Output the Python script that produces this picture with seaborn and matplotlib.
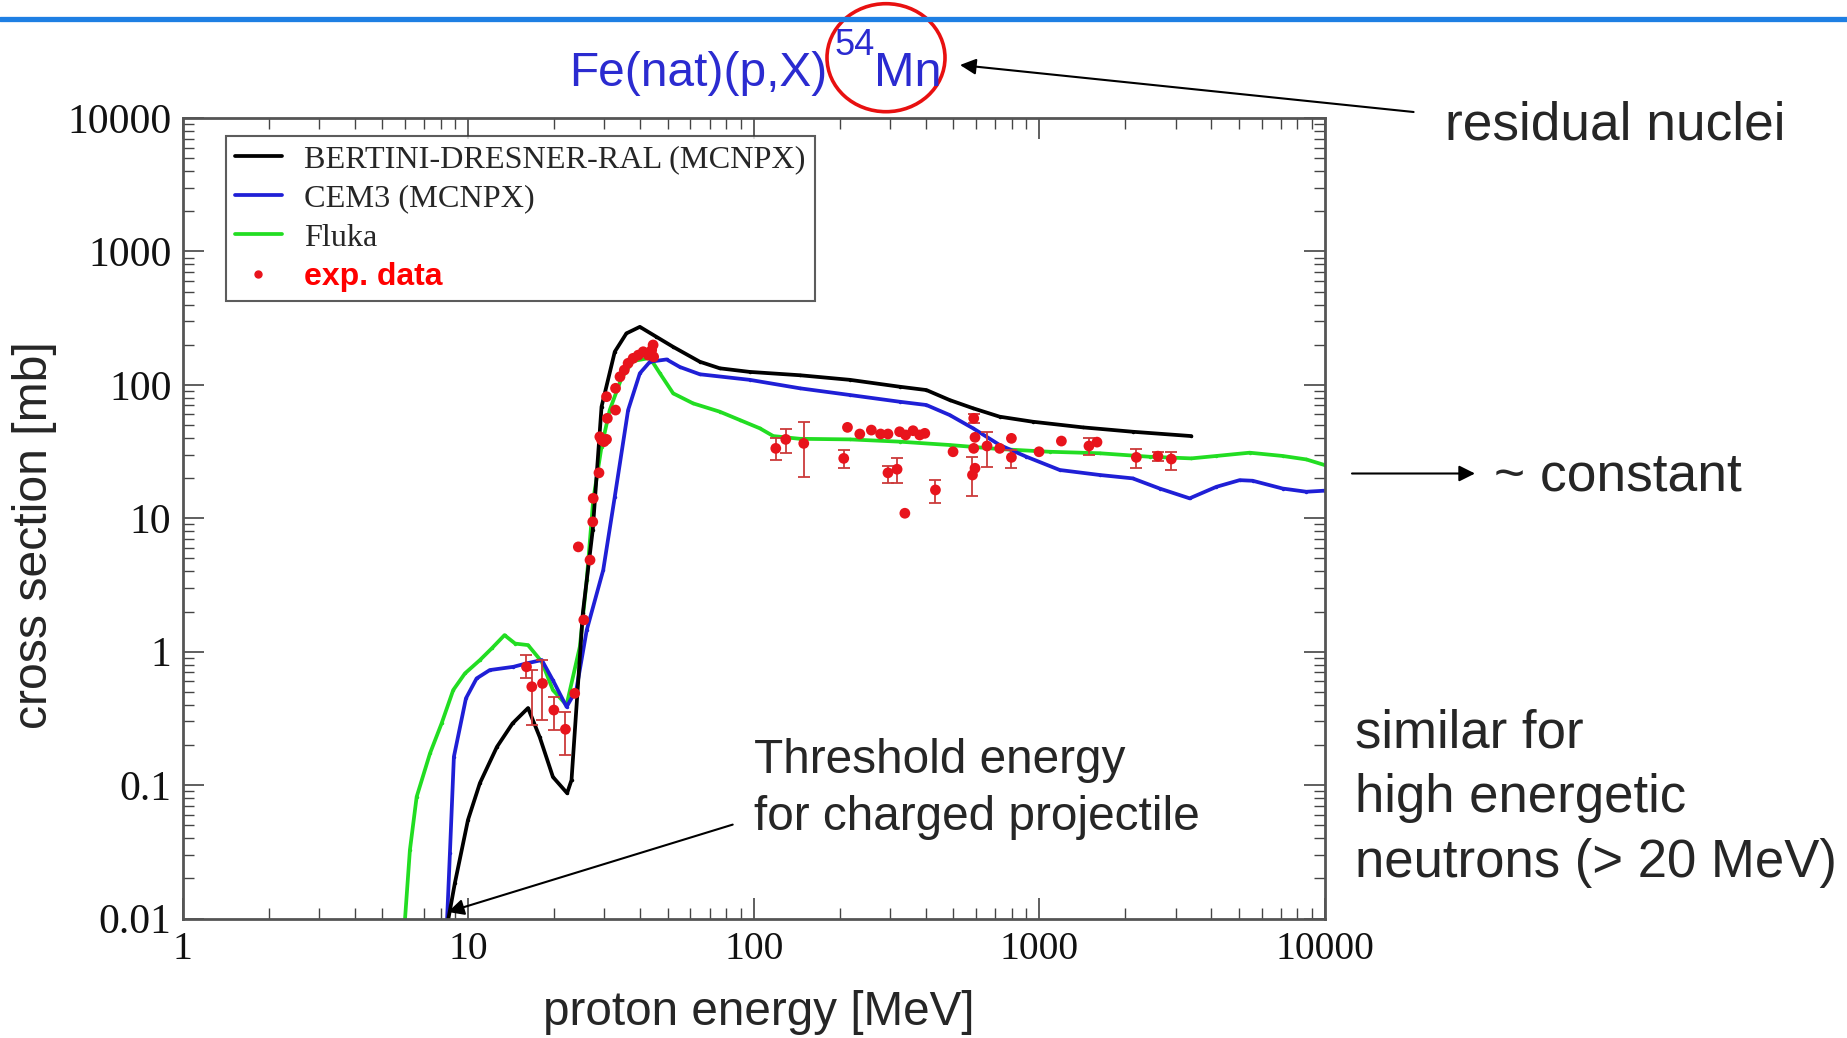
import numpy as np
import pandas as pd
import seaborn as sns
import matplotlib
matplotlib.use("Agg")
import matplotlib.pyplot as plt
from matplotlib.patches import Ellipse
from matplotlib.lines import Line2D
from matplotlib.ticker import LogLocator, NullFormatter

# ---------------- data ----------------
bertini_energy = [8.49, 8.98, 9.98, 10.99, 12.6, 14.3, 16.2, 17.8, 19.8, 22.2, 23.0, 25.2, 27.3,
                  29.3, 32.6, 35.8, 39.9, 45.6, 52.1, 64.7, 76.0, 96.8, 145, 217, 324, 402, 485,
                  586, 726, 948, 1418, 2121, 3404]
bertini_xs = [0.0095, 0.0184, 0.0547, 0.1035, 0.193, 0.29, 0.378, 0.229, 0.115, 0.087, 0.109, 1.95,
              8.2, 68.5, 177, 243, 272, 229, 193, 149, 133, 125, 118, 109, 96.8, 91.4, 76.9, 66.7,
              57.7, 52.9, 48.0, 44.5, 41.3]

cem3_energy = [8.40, 8.63, 8.91, 9.82, 10.7, 11.9, 14.4, 16.0, 18.1, 19.8, 22.1, 23.9, 26.0, 29.7,
               32.6, 36.3, 39.9, 43.3, 49.5, 55.1, 64.7, 96.8, 145, 217, 324, 402, 485, 586, 726,
               901, 1178, 1626, 2121, 2637, 3357, 4165, 5025, 5580, 7105, 8600, 10000]
cem3_xs = [0.008, 0.031, 0.163, 0.447, 0.63, 0.728, 0.77, 0.817, 0.865, 0.61, 0.386, 0.515, 1.45,
           4.09, 14.5, 64.7, 122, 149, 155, 136, 120, 109, 94.2, 83.9, 74.7, 70.6, 59.4, 47.2,
           35.4, 28.9, 23.0, 21.1, 19.9, 16.7, 14.1, 17.2, 19.3, 19.1, 16.7, 15.8, 16.1]

fluka_energy = [6.0, 6.25, 6.6, 7.35, 8.07, 8.86, 9.74, 10.99, 12.1, 13.4, 14.6, 16.2, 18.1, 19.8,
                22.1, 24.6, 26.0, 27.4, 29.3, 31.3, 34.4, 37.8, 43.3, 46.9, 52.2, 61.3, 76.0, 89.3,
                105, 117, 145, 217, 324, 485, 726, 1087, 1626, 2432, 3404, 4165, 5446, 7105, 8600,
                10000]
fluka_xs = [0.0095, 0.0326, 0.0817, 0.173, 0.29, 0.515, 0.687, 0.865, 1.06, 1.33, 1.15, 1.12, 0.84,
            0.515, 0.398, 1.09, 3.44, 13.7, 34.4, 64.7, 112, 151, 159, 122, 86.3, 72.6, 62.9, 54.5,
            47.2, 41.3, 39.4, 39.0, 37.5, 35.4, 33.0, 31.5, 30.7, 28.9, 28.1, 29.3, 31.0, 29.3,
            27.6, 25.0]

exp_energy = [16.0, 16.7, 18.2, 19.95, 21.9, 23.6,
              25.4, 24.3, 26.7, 27.3, 27.4, 28.7, 29.3, 29.9, 28.9, 30.5, 30.7, 30.5, 32.8, 32.8,
              34.0, 35.2, 36.3, 37.8, 39.4, 41.0, 42.7, 43.9, 44.4, 44.6,
              119.4, 129.4, 149.6, 206.5, 212.8, 235, 258, 278, 295, 295, 317.5, 324, 340, 361,
              381, 397, 338, 432.5, 498.5, 589, 595, 589, 595, 583, 655.5, 726, 798, 798, 997,
              1194, 1491, 1591, 2185, 2600, 2897]
exp_xs = [0.77, 0.546, 0.578, 0.365, 0.262, 0.487,
          1.73, 6.1, 4.86, 9.4, 14.1, 21.9, 38.6, 37.5, 40.8, 39.0, 56.1, 81.5, 64.7, 94.2,
          115, 129, 145, 158, 167, 177, 167, 182, 199, 162,
          33.4, 39.0, 36.4, 28.1, 48.0, 42.8, 45.8, 42.8, 42.8, 21.9, 23.3, 44.5, 42.1, 45.3,
          42.1, 43.3, 10.9, 16.3, 31.5, 56.1, 40.4, 33.4, 23.7, 21.1, 34.8, 33.4, 39.7, 28.6, 31.5,
          37.9, 34.8, 37.2, 28.6, 29.2, 27.8]
exp_err_low = [0.634, 0.282, 0.307, 0.258, 0.168, 0.487,
               1.73, 6.1, 4.86, 9.4, 14.1, 21.9, 38.6, 37.5, 40.8, 39.0, 56.1, 81.5, 64.7, 94.2,
               115, 129, 145, 158, 167, 177, 167, 182, 199, 162,
               27.3, 31.0, 20.3, 23.7, 48.0, 42.8, 45.8, 42.8, 42.8, 18.3, 18.3, 44.5, 42.1, 45.3,
               42.1, 43.3, 10.9, 13.1, 31.5, 52.0, 40.4, 33.4, 23.7, 14.6, 24.3, 33.4, 39.7, 23.7,
               31.5, 37.9, 29.8, 37.2, 23.7, 26.9, 23.0]
exp_err_high = [0.943, 0.728, 0.865, 0.459, 0.354, 0.487,
                1.73, 6.1, 4.86, 9.4, 14.1, 21.9, 38.6, 37.5, 40.8, 39.0, 56.1, 81.5, 64.7, 94.2,
                115, 129, 145, 158, 167, 177, 167, 182, 199, 162,
                39.7, 46.4, 52.9, 32.4, 48.0, 42.8, 45.8, 42.8, 42.8, 24.6, 28.1, 44.5, 42.1, 45.3,
                42.1, 43.3, 10.9, 19.3, 31.5, 60.0, 40.4, 33.4, 23.7, 28.9, 44.5, 33.4, 39.7, 32.4,
                31.5, 37.9, 39.7, 37.2, 32.9, 31.6, 31.5]

x_ticks = [1, 10, 100, 1000, 10000]
x_tick_labels = ["1", "10", "100", "1000", "10000"]
y_ticks = [0.01, 0.1, 1, 10, 100, 1000, 10000]
y_tick_labels = ["0.01", "0.1", "1", "10", "100", "1000", "10000"]

legend_labels = ["BERTINI-DRESNER-RAL (MCNPX)", "CEM3 (MCNPX)", "Fluka", "exp. data"]

# ---------------- style ----------------
sns.set_style("ticks")
plt.rcParams["font.family"] = ["Liberation Sans", "DejaVu Sans"]
plt.rcParams["mathtext.default"] = "regular"

W, H = 1847, 1038
def fx(x):
    return x / W
def fy(y):
    return 1 - y / H

c_black = "#000000"
c_blue = "#1f1fd6"
c_green = "#22dd22"
c_red = "#e8141c"
c_err = "#cc3a3a"
c_title = "#2b2bd0"

fig = plt.figure(figsize=(W / 100, H / 100), dpi=100)
fig.patch.set_facecolor("white")
ax = fig.add_axes([fx(182.6), fy(918.5), (1325 - 182.6) / W, (918.5 - 118) / H])

for xs_e, xs_v, col in [(fluka_energy, fluka_xs, c_green),
                        (cem3_energy, cem3_xs, c_blue),
                        (bertini_energy, bertini_xs, c_black)]:
    sns.lineplot(x=xs_e, y=xs_v, ax=ax, color=col, lw=2.7, sort=False, estimator=None,
                 marker="o", markersize=2.5, markeredgewidth=0, legend=False)

e = np.array(exp_energy)
v = np.array(exp_xs)
lo = np.array(exp_err_low)
hi = np.array(exp_err_high)
m = (hi - lo) > 1e-9
ax.errorbar(e[m], v[m], yerr=[v[m] - lo[m], hi[m] - v[m]], fmt="none", ecolor=c_err,
            elinewidth=1.3, capsize=4, capthick=1.3, zorder=4)
sns.scatterplot(x=exp_energy, y=exp_xs, ax=ax, color=c_red, s=60, edgecolor="none",
                zorder=5, legend=False)

ax.set_xscale("log")
ax.set_yscale("log")
ax.set_xlim(1, 10000)
ax.set_ylim(0.01, 10000)
ax.set_xticks(x_ticks)
ax.set_xticklabels(x_tick_labels, fontfamily="Liberation Serif", fontsize=28.5)
ax.set_yticks(y_ticks)
ax.set_yticklabels(y_tick_labels, fontfamily="Liberation Serif", fontsize=30)
ax.xaxis.set_minor_locator(LogLocator(base=10, subs=np.arange(2, 10)))
ax.yaxis.set_minor_locator(LogLocator(base=10, subs=np.arange(2, 10)))
ax.xaxis.set_minor_formatter(NullFormatter())
ax.yaxis.set_minor_formatter(NullFormatter())
ax.tick_params(which="both", direction="in", top=True, right=True, color="#444444",
               labelcolor="#111111")
ax.tick_params(which="major", length=15, width=1.2)
ax.tick_params(which="minor", length=8, width=1.0)
ax.tick_params(axis="x", which="major", pad=9)
ax.tick_params(axis="y", which="major", pad=8)
for s in ax.spines.values():
    s.set_color("#555555")
    s.set_linewidth(2.0)
ax.set_xlabel("")
ax.set_ylabel("")

handles = [Line2D([], [], color=c_black, lw=2.7),
           Line2D([], [], color=c_blue, lw=2.7),
           Line2D([], [], color=c_green, lw=2.7),
           Line2D([], [], color=c_red, marker="o", ls="none", ms=5)]
leg = ax.legend(handles, legend_labels, loc="upper left", bbox_to_anchor=(0.038, 0.978),
                prop={"family": "Liberation Serif", "size": 23.2}, frameon=True, fancybox=False,
                edgecolor="#333333", handlelength=1.45, handletextpad=0.7, labelspacing=0.3,
                borderpad=0.28, borderaxespad=0)
leg.get_frame().set_linewidth(1.5)
t = leg.get_texts()[3]
t.set_color("red")
t.set_fontweight("bold")
t.set_fontfamily("Liberation Sans")
t.set_fontsize(23)

# ---------------- decorations ----------------
fig.add_artist(Line2D([0, 1], [fy(19), fy(19)], transform=fig.transFigure,
                      color="#1e7fe3", lw=3.8))
fig.text(fx(569), fy(86), "Fe(nat)(p,X)", color=c_title, fontsize=34.5,
         ha="left", va="baseline")
fig.text(fx(834), fy(55), "54", color=c_title, fontsize=26, ha="left", va="baseline")
fig.text(fx(874), fy(86), "Mn", color=c_title, fontsize=35, ha="left", va="baseline")
fig.add_artist(Ellipse((fx(886), fy(57.7)), width=118 / W, height=108 / H,
                       transform=fig.transFigure, fill=False, ec="#e81010", lw=2.6))

arrow_kw = dict(arrowstyle="-|>", color="black", lw=1.5, mutation_scale=24,
                shrinkA=0, shrinkB=0)
ax.annotate("", xy=(fx(960), fy(65)), xycoords="figure fraction",
            xytext=(fx(1413.6), fy(112)), textcoords="figure fraction",
            arrowprops=arrow_kw, annotation_clip=False)
ax.annotate("", xy=(fx(1475), fy(473.5)), xycoords="figure fraction",
            xytext=(fx(1352), fy(473.5)), textcoords="figure fraction",
            arrowprops=arrow_kw, annotation_clip=False)
ax.annotate("", xy=(fx(448), fy(912)), xycoords="figure fraction",
            xytext=(fx(732.7), fy(824.6)), textcoords="figure fraction",
            arrowprops=arrow_kw, annotation_clip=False)

fig.text(fx(1445), fy(139), "residual nuclei", fontsize=38.3, ha="left", va="baseline")
fig.text(fx(1494), fy(490), "~ constant", fontsize=38.4, ha="left", va="baseline")
fig.text(fx(1355), fy(748), "similar for", fontsize=38, ha="left", va="baseline")
fig.text(fx(1355), fy(811.6), "high energetic", fontsize=38, ha="left", va="baseline")
fig.text(fx(1355), fy(876.5), "neutrons (> 20 MeV)", fontsize=38, ha="left", va="baseline")
fig.text(fx(754), fy(772.8), "Threshold energy", fontsize=34.4, ha="left", va="baseline")
fig.text(fx(754), fy(830.5), "for charged projectile", fontsize=34.4, ha="left", va="baseline")
fig.text(fx(35), fy(535), "cross section [mb]", rotation=90, fontsize=34.7,
         ha="center", va="center")
fig.text(fx(758.6), fy(1025), "proton energy [MeV]", fontsize=34.3, ha="center", va="baseline")

fig.savefig("out.png", dpi=100, facecolor="white")
